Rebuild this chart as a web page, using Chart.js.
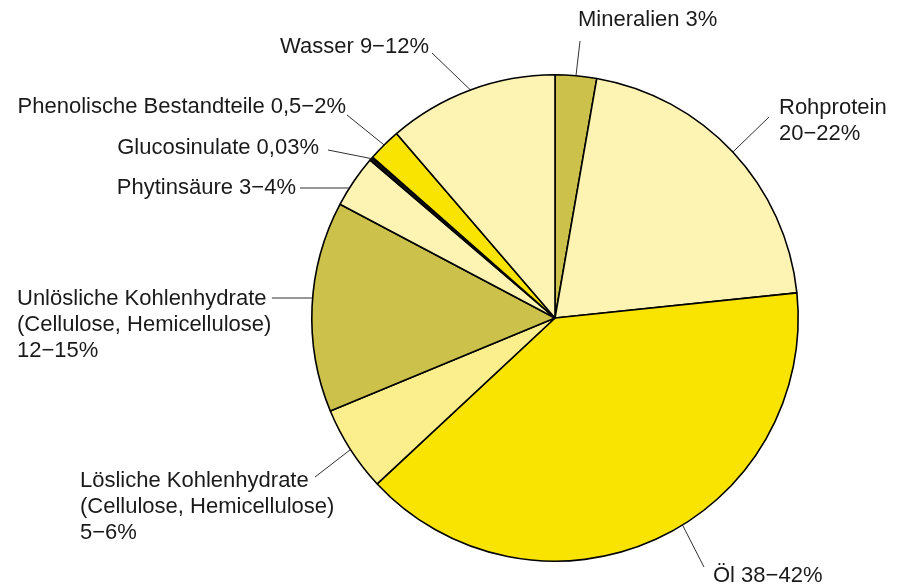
<!DOCTYPE html>
<html lang="de">
<head>
<meta charset="UTF-8">
<title>Zusammensetzung</title>
<script src="https://cdn.jsdelivr.net/npm/chart.js"></script>
<style>
  html, body { margin: 0; padding: 0; background: #fff; }
  .wrap { width: 903px; height: 585px; position: relative; }
</style>
</head>
<body>
<div class="wrap"><canvas id="pie"></canvas></div>
<script>
// Werte, im Uhrzeigersinn ab 12 Uhr
const names = ['Mineralien', 'Rohprotein', 'Öl', 'Lösliche Kohlenhydrate', 'Unlösliche Kohlenhydrate',
               'Phytinsäure', 'Glucosinulate', 'Phenolische Bestandteile', 'Wasser'];
const shares = [2.75, 20.6, 39.7, 5.7, 14.0, 3.5, 0.25, 2.2, 11.3];
const labelText = [
  ['Mineralien 3%'],
  ['Rohprotein', '20\u221222%'],
  ['Öl 38\u221242%'],
  ['Lösliche Kohlenhydrate', '(Cellulose, Hemicellulose)', '5\u22126%'],
  ['Unlösliche Kohlenhydrate', '(Cellulose, Hemicellulose)', '12\u221215%'],
  ['Phytinsäure 3\u22124%'],
  ['Glucosinulate 0,03%'],
  ['Phenolische Bestandteile 0,5\u22122%'],
  ['Wasser 9\u221212%']
];
const colors = ['#cbc14b', '#fdf4b4', '#f8e400', '#fbee8c', '#cbc14b', '#fdf4b4', '#111111', '#f8e400', '#fdf4b4'];

// Beschriftung: Textposition, Ausrichtung, Ende der Hinweislinie,
// at = Stelle im Segment (0..1), horiz = waagerechte Linie
const labelPos = [
  { x: 578, y: 20, align: 'left',  end: [580, 41], at: 0.5 },
  { x: 779, y: 108, align: 'left', end: [769, 117], at: 0.5 },
  { x: 713, y: 576, align: 'left', end: [704, 567], at: 0.45 },
  { x: 80, y: 481, align: 'left',  end: [315, 477], at: 0.5 },
  { x: 17, y: 299, align: 'left',  end: [272, 298], horiz: true },
  { x: 296, y: 188, align: 'right', end: [300, 188], horiz: true },
  { x: 319, y: 148, align: 'right', end: [328, 150], at: 0.5 },
  { x: 346, y: 107, align: 'right', end: [347, 115], at: 0.5 },
  { x: 429, y: 47, align: 'right', end: [432, 53], at: 0.5 }
];

const calloutPlugin = {
  id: 'callouts',
  afterDatasetsDraw(chart) {
    const ctx = chart.ctx;
    const arcs = chart.getDatasetMeta(0).data;
    ctx.save();
    ctx.font = '22px "Liberation Sans", Arial, sans-serif';
    ctx.fillStyle = '#1a1a1a';
    ctx.strokeStyle = '#1a1a1a';
    ctx.lineWidth = 0.9;
    ctx.textBaseline = 'middle';
    arcs.forEach((arc, i) => {
      const p = arc.getProps(['x', 'y', 'startAngle', 'endAngle', 'outerRadius']);
      const lp = labelPos[i];
      let sx, sy;
      if (lp.horiz) {
        sy = lp.end[1];
        sx = p.x - Math.sqrt(p.outerRadius * p.outerRadius - (sy - p.y) * (sy - p.y));
      } else {
        const a = p.startAngle + (p.endAngle - p.startAngle) * lp.at;
        sx = p.x + Math.cos(a) * p.outerRadius;
        sy = p.y + Math.sin(a) * p.outerRadius;
      }
      ctx.beginPath();
      ctx.moveTo(sx, sy);
      ctx.lineTo(lp.end[0], lp.end[1]);
      ctx.stroke();
      ctx.textAlign = lp.align;
      labelText[i].forEach((t, k) => ctx.fillText(t, lp.x, lp.y + k * 26));
    });
    ctx.restore();
  }
};

new Chart(document.getElementById('pie'), {
  type: 'pie',
  data: {
    labels: names,
    datasets: [{
      data: shares,
      backgroundColor: colors,
      borderColor: '#000',
      borderWidth: 1.6
    }]
  },
  options: {
    responsive: true,
    maintainAspectRatio: false,
    animation: false,
    layout: { padding: { left: 311, right: 104, top: 74, bottom: 23 } },
    plugins: { legend: { display: false }, tooltip: { enabled: false } }
  },
  plugins: [calloutPlugin]
});
</script>
</body>
</html>
